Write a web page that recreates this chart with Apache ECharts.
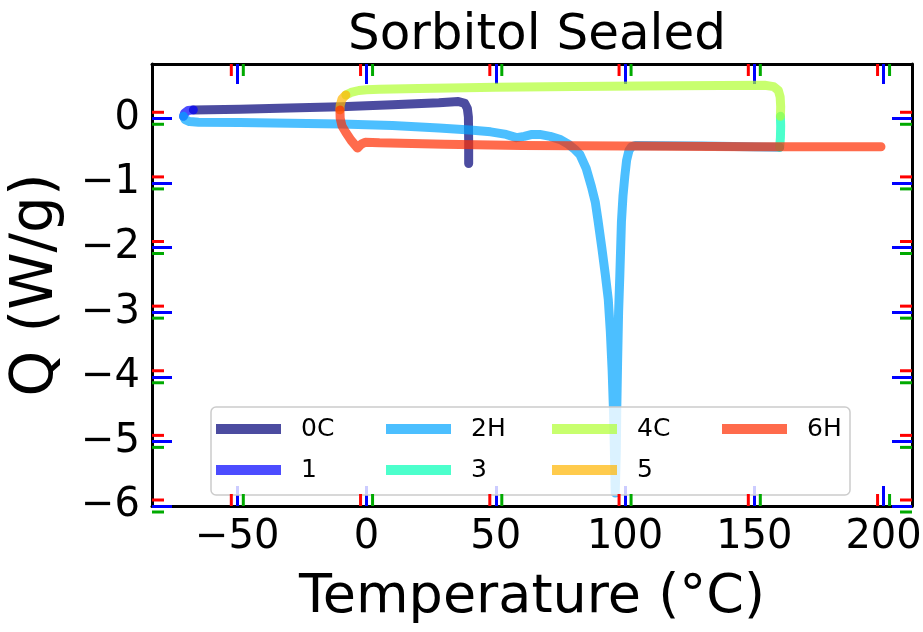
<!DOCTYPE html>
<html>
<head>
<meta charset="utf-8">
<script src="https://cdn.jsdelivr.net/npm/echarts@6/dist/echarts.min.js"></script>
<style>html,body{margin:0;padding:0;background:#fff}#c{width:923px;height:632px;background:#fff}</style>
</head>
<body>
<div id="c"></div>
<script>
// ---- data (Temperature °C, Q W/g) ----
const seriesNames = ['0C', '1', '2H', '3', '4C', '5', '6H'];
const xTicks = [-50, 0, 50, 100, 150, 200];
const yTicks = [-6, -5, -4, -3, -2, -1, 0];

const d0C = [[39.5,-0.70],[39.5,-0.35],[39.4,0.02],[39.0,0.15],[38.0,0.23],[35.5,0.26],[28,0.24],[10,0.21],[-10,0.18],[-30,0.16],[-49,0.14],[-67,0.13]];
const d1 = [[-67,0.13],[-69,0.12],[-70.4,0.08],[-70.8,0.03]];
const d2H = [[-70.8,0.03],[-70.2,-0.02],[-68.5,-0.05],[-65,-0.06],[-49,-0.065],[-10,-0.09],[10,-0.11],[28,-0.15],[40,-0.18],[48,-0.21],[54,-0.25],[58,-0.3],[61,-0.28],[64,-0.25],[67,-0.25],[71,-0.28],[75,-0.33],[78,-0.4],[80.5,-0.48],[82.5,-0.56],[85,-0.78],[87,-1.06],[88.5,-1.3],[89.5,-1.57],[91,-2.0],[92.3,-2.4],[93.5,-2.8],[94.3,-3.3],[95,-3.9],[95.5,-4.5],[95.9,-5.2],[96.2,-5.8],[96.6,-5.2],[96.8,-4.5],[97.1,-3.8],[97.5,-3.0],[98,-2.4],[98.6,-1.6],[99.2,-1.2],[99.9,-0.9],[100.6,-0.65],[101.5,-0.5],[102.5,-0.44],[104,-0.42],[130,-0.43],[159.8,-0.45]];
const d3 = [[159.8,-0.45],[160.1,-0.3],[160.2,-0.12],[160.1,0.03]];
const d4C = [[160.1,0.03],[160.2,0.18],[160.0,0.33],[159.3,0.43],[157.5,0.49],[154,0.51],[120,0.505],[80,0.49],[50,0.48],[20,0.46],[5,0.45],[0,0.44],[-3,0.43],[-6,0.40],[-8,0.36]];
const d5 = [[-8,0.36],[-9.5,0.30],[-10.2,0.2],[-10.3,0.13]];
const d6H = [[-10.3,0.13],[-10.2,0.0],[-9.5,-0.12],[-8,-0.22],[-6,-0.34],[-3.5,-0.46],[-2,-0.40],[-0.5,-0.37],[5,-0.38],[30,-0.40],[60,-0.42],[100,-0.43],[150,-0.44],[199,-0.44]];

const seriesData = [d0C, d1, d2H, d3, d4C, d5, d6H];
const seriesColors = ['rgba(0,0,120,0.7)','rgba(0,0,255,0.7)','rgba(0,164,255,0.7)','rgba(0,255,182,0.7)','rgba(176,255,48,0.7)','rgba(255,181,0,0.7)','rgba(255,44,0,0.7)'];

const FONT = 'DejaVu Sans';
const minus = v => String(v).replace('-', '\u2212');
const TICK_LEN = 12;
const X_MIN = -83, X_MAX = 211, Y_MIN = -6, Y_MAX = 0.84;

const lineSt = () => ({color:'#000', width:3});
const tickOpt = () => ({show: true, inside: true, length: 20, lineStyle: {color: '#00f', width: 3}});

const legendCols = [['0C','1'],['2H','3'],['4C','5'],['6H']];
const legendLefts = [216, 386, 552, 722];

function xTickItem(params, api) {
  const cs = params.coordSys;
  const x = api.coord([api.value(0), api.value(1)])[0];
  const st = {stroke: '#0a0', lineWidth: 3};
  return {type: 'group', children: [
    {type: 'line', shape: {x1: x + 6, y1: cs.y + cs.height, x2: x + 6, y2: cs.y + cs.height - TICK_LEN}, style: st},
    {type: 'line', shape: {x1: x + 6, y1: cs.y, x2: x + 6, y2: cs.y + TICK_LEN}, style: st}
  ]};
}
function yTickItem(params, api) {
  const cs = params.coordSys;
  const y = api.coord([api.value(0), api.value(1)])[1];
  const st = {stroke: '#0a0', lineWidth: 3};
  return {type: 'group', children: [
    {type: 'line', shape: {x1: cs.x, y1: y + 6, x2: cs.x + TICK_LEN, y2: y + 6}, style: st},
    {type: 'line', shape: {x1: cs.x + cs.width, y1: y + 6, x2: cs.x + cs.width - TICK_LEN, y2: y + 6}, style: st}
  ]};
}

const chart = echarts.init(document.getElementById('c'));
chart.setOption({
  animation: false,
  title: {
    text: 'Sorbitol Sealed', left: 532, top: 6, textAlign: 'center',
    textStyle: {fontFamily: FONT, fontSize: 50, fontWeight: 'normal', color: '#000'}
  },
  grid: {left: 152, right: 11, top: 64, bottom: 126, outerBoundsMode: 'none'},
  xAxis: [{
    type: 'value', min: X_MIN, max: X_MAX, position: 'bottom',
    axisLine: {show: true, onZero: false, lineStyle: lineSt()},
    axisTick: Object.assign(tickOpt(), {customValues: xTicks}),
    axisLabel: {customValues: xTicks, formatter: minus, fontFamily: FONT, fontSize: 40, color: '#000', margin: 12},
    splitLine: {show: false},
    name: 'Temperature (°C)', nameLocation: 'middle', nameGap: 65,
    nameTextStyle: {fontFamily: FONT, fontSize: 54, color: '#000'}
  }, {
    type: 'value', min: X_MIN, max: X_MAX, position: 'top',
    axisLine: {show: true, onZero: false, lineStyle: lineSt()},
    axisTick: Object.assign(tickOpt(), {customValues: xTicks}),
    axisLabel: {show: false}, splitLine: {show: false}
  }],
  yAxis: [{
    type: 'value', min: Y_MIN, max: Y_MAX, position: 'left',
    axisLine: {show: true, onZero: false, lineStyle: lineSt()},
    axisTick: Object.assign(tickOpt(), {customValues: yTicks}),
    axisLabel: {customValues: yTicks, formatter: minus, fontFamily: FONT, fontSize: 40, color: '#000', margin: 12},
    splitLine: {show: false},
    name: 'Q (W/g)', nameLocation: 'middle', nameGap: 86,
    nameTextStyle: {fontFamily: FONT, fontSize: 58, color: '#000'}
  }, {
    type: 'value', min: Y_MIN, max: Y_MAX, position: 'right',
    axisLine: {show: true, onZero: false, lineStyle: lineSt()},
    axisTick: Object.assign(tickOpt(), {customValues: yTicks}),
    axisLabel: {show: false}, splitLine: {show: false}
  }],
  legend: legendCols.map((col, i) => ({
    data: col, orient: 'vertical', left: legendLefts[i], top: 414, padding: 0,
    icon: 'rect', itemWidth: 65, itemHeight: 10, itemGap: 11,
    selectedMode: false,
    textStyle: {fontFamily: FONT, fontSize: 25, color: '#000', lineHeight: 30, padding: [0,0,0,15]}
  })),
  series: seriesNames.map((n, i) => ({
    name: n, type: 'line', data: seriesData[i], color: seriesColors[i],
    showSymbol: false, symbol: 'none', smooth: false, z: 2,
    lineStyle: {width: 9, color: seriesColors[i], cap: 'round', join: 'round'},
    xAxisIndex: 0, yAxisIndex: 0
  })).concat([{
    type: 'custom', name: 'xticks', data: xTicks.map(v => [v, 0]), renderItem: xTickItem,
    clip: false, silent: true, z: 6, xAxisIndex: 0, yAxisIndex: 0
  }, {
    type: 'custom', name: 'yticks', data: yTicks.map(v => [0, v]), renderItem: yTickItem,
    clip: false, silent: true, z: 6, xAxisIndex: 0, yAxisIndex: 0
  }])
});

const px = (x, y) => chart.convertToPixel({gridIndex: 0}, [x, y]);
const tickGraphics = [];
const tst = {stroke: '#f00', lineWidth: 3};
xTicks.forEach(v => {
  const b = px(v, Y_MIN), t = px(v, Y_MAX);
  tickGraphics.push({type: 'line', z: 10, silent: true, shape: {x1: b[0] - 6, y1: b[1], x2: b[0] - 6, y2: b[1] - TICK_LEN}, style: tst});
  tickGraphics.push({type: 'line', z: 10, silent: true, shape: {x1: t[0] - 6, y1: t[1], x2: t[0] - 6, y2: t[1] + TICK_LEN}, style: tst});
});
yTicks.forEach(v => {
  const l = px(X_MIN, v), r = px(X_MAX, v);
  tickGraphics.push({type: 'line', z: 10, silent: true, shape: {x1: l[0], y1: l[1] - 6, x2: l[0] + TICK_LEN, y2: l[1] - 6}, style: tst});
  tickGraphics.push({type: 'line', z: 10, silent: true, shape: {x1: r[0], y1: r[1] - 6, x2: r[0] - TICK_LEN, y2: r[1] - 6}, style: tst});
});
chart.setOption({
  graphic: [{
    type: 'rect', z: 3, silent: true,
    shape: {x: 211, y: 407, width: 639, height: 88, r: 5},
    style: {fill: 'rgba(255,255,255,0.8)', stroke: '#cccccc', lineWidth: 1.5}
  }].concat(tickGraphics)
});
</script>
</body>
</html>
